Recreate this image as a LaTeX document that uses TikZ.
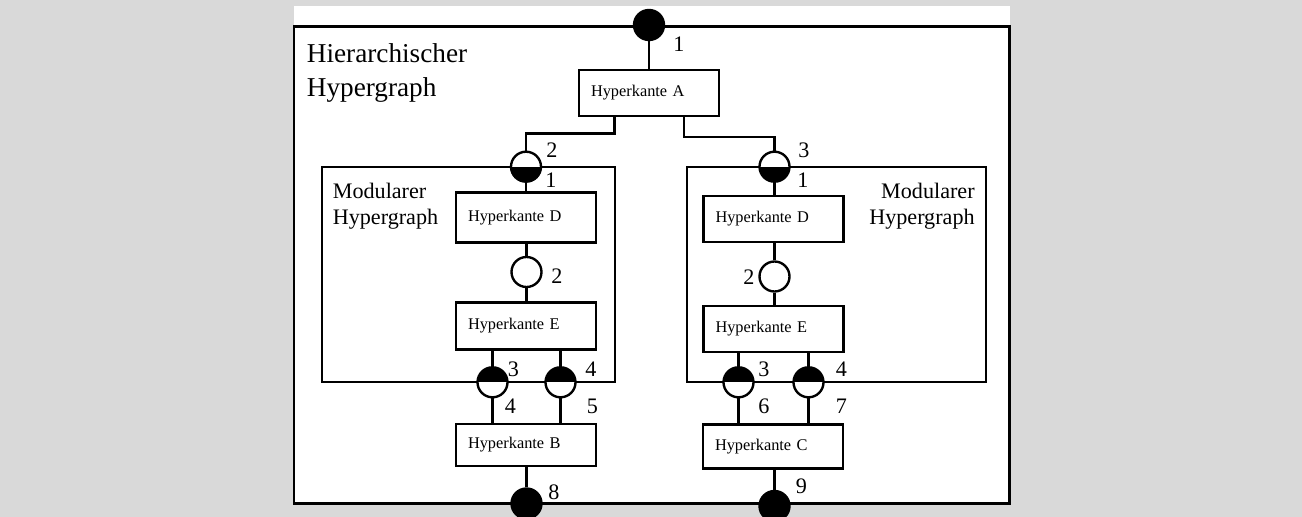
\documentclass[tikz,border=0pt]{standalone}
\usepackage{fontspec}
\setmainfont{Liberation Serif}
\definecolor{hintergrund}{RGB}{217,217,217}
\tikzset{
	linie/.style={line width=1.35pt},
	kante/.style={draw=black, fill=white, linie, rectangle, align=left, text width=2.32cm, inner xsep=0.24cm, inner ysep=0pt, font=\fontsize{9.3}{11}\selectfont},
	anschluss/.style={circle, draw=black, fill=white, linie, minimum size=0.6cm, inner sep=0pt},
	anschlussoben/.style={anschluss, path picture={\fill[black] (path picture bounding box.north west) rectangle (path picture bounding box.east);}},
	anschlussunten/.style={anschluss, path picture={\fill[black] (path picture bounding box.west) rectangle (path picture bounding box.south east);}},
	anschlussvoll/.style={anschluss, fill=black},
	nummer/.style={inner sep=0pt, font=\fontsize{12.6}{14}\selectfont},
}

\begin{document}
\begin{tikzpicture}
		\path[use as bounding box, clip] (0,0) rectangle (26.04,10.34);
		\fill[hintergrund] (0,0) rectangle (26.04,10.34);
		\fill[white] (5.88,0.27) rectangle (20.19,10.22);
		\draw[linie] (5.88,0.27) rectangle (20.19,9.81);
		% zwei modulare Hypergraphen
		\draw[linie] (6.44,2.694) rectangle (12.30,7.006);
		\draw[linie] (13.74,2.694) rectangle (19.72,7.006);

		\node[anchor=north west, align=left, inner sep=0pt, font=\fontsize{15.5}{19.4}\selectfont] (hier) at (6.13,9.48) {Hierarchischer\\Hypergraph};
		\node[anchor=north west, align=left, inner sep=0pt, font=\fontsize{12.6}{14.7}\selectfont] (modl) at (6.65,6.69) {Modularer\\Hypergraph};
		\node[anchor=north east, align=right, inner sep=0pt, font=\fontsize{12.6}{14.7}\selectfont] (modr) at (19.50,6.69) {Modularer\\Hypergraph};

		\node[anschlussvoll] (t1) at (12.98,9.84) {};
		\node[kante, minimum height=0.92cm] (ka) at (12.98,8.48) {Hyperkante A};
		\node[anschlussunten] (lp1) at (10.52,7.006) {};
		\node[anschlussunten] (rp1) at (15.49,7.006) {};

		% links
		\node[kante, minimum height=1.0cm] (ldk) at (10.52,5.99) {Hyperkante D};
		\node[anschluss] (lp2) at (10.53,4.90) {};
		\node[kante, minimum height=0.94cm] (lek) at (10.52,3.82) {Hyperkante E};
		\node[anschlussoben] (lp3) at (9.85,2.694) {};
		\node[anschlussoben] (lp4) at (11.21,2.694) {};
		\node[kante, minimum height=0.84cm] (kb) at (10.52,1.44) {Hyperkante B};
		\node[anschlussvoll] (b8) at (10.53,0.27) {};

		% rechts
		\node[kante, minimum height=0.93cm] (rdk) at (15.47,5.96) {Hyperkante D};
		\node[anschluss] (rp2) at (15.49,4.81) {};
		\node[kante, minimum height=0.92cm] (rek) at (15.47,3.76) {Hyperkante E};
		\node[anschlussoben] (rp3) at (14.77,2.694) {};
		\node[anschlussoben] (rp4) at (16.17,2.694) {};
		\node[kante, minimum height=0.88cm] (kc) at (15.46,1.41) {Hyperkante C};
		\node[anschlussvoll] (b9) at (15.49,0.22) {};

		\draw[linie] (t1) -- (t1 |- ka.north);
		\draw[linie] ([xshift=-0.69cm]ka.south) -- ++(0,-0.33) -| (lp1);
		\draw[linie] ([xshift=0.70cm]ka.south) -- ++(0,-0.40) -| (rp1);

		\draw[linie] (lp1) -- (lp1 |- ldk.north);
		\draw[linie] (lp2) -- (lp2 |- ldk.south);
		\draw[linie] (lp2) -- (lp2 |- lek.north);
		\draw[linie] (lp3) -- (lp3 |- lek.south);
		\draw[linie] (lp3) -- (lp3 |- kb.north);
		\draw[linie] (lp4) -- (lp4 |- lek.south);
		\draw[linie] (lp4) -- (lp4 |- kb.north);
		\draw[linie] (b8) -- (b8 |- kb.south);

		\draw[linie] (rp1) -- (rp1 |- rdk.north);
		\draw[linie] (rp2) -- (rp2 |- rdk.south);
		\draw[linie] (rp2) -- (rp2 |- rek.north);
		\draw[linie] (rp3) -- (rp3 |- rek.south);
		\draw[linie] (rp3) -- (rp3 |- kc.north);
		\draw[linie] (rp4) -- (rp4 |- rek.south);
		\draw[linie] (rp4) -- (rp4 |- kc.north);
		\draw[linie] (b9) -- (b9 |- kc.south);

		\node[nummer] (z1) at (13.58,9.46) {1};
		\node[nummer] (z2) at (11.04,7.34) {2};
		\node[nummer] (z3) at (11.02,6.74) {1};
		\node[nummer] (z4) at (16.08,7.34) {3};
		\node[nummer] (z5) at (16.06,6.74) {1};
		\node[nummer] (z6) at (11.14,4.81) {2};
		\node[nummer] (z7) at (14.98,4.80) {2};
		\node[nummer] (z8) at (10.27,2.95) {3};
		\node[nummer] (z9) at (11.82,2.96) {4};
		\node[nummer] (z10) at (10.21,2.21) {4};
		\node[nummer] (z11) at (11.85,2.21) {5};
		\node[nummer] (z12) at (15.28,2.96) {3};
		\node[nummer] (z13) at (16.83,2.96) {4};
		\node[nummer] (z14) at (15.28,2.21) {6};
		\node[nummer] (z15) at (16.83,2.21) {7};
		\node[nummer] (z16) at (11.08,0.49) {8};
		\node[nummer] (z17) at (16.03,0.61) {9};
\end{tikzpicture}
\end{document}
